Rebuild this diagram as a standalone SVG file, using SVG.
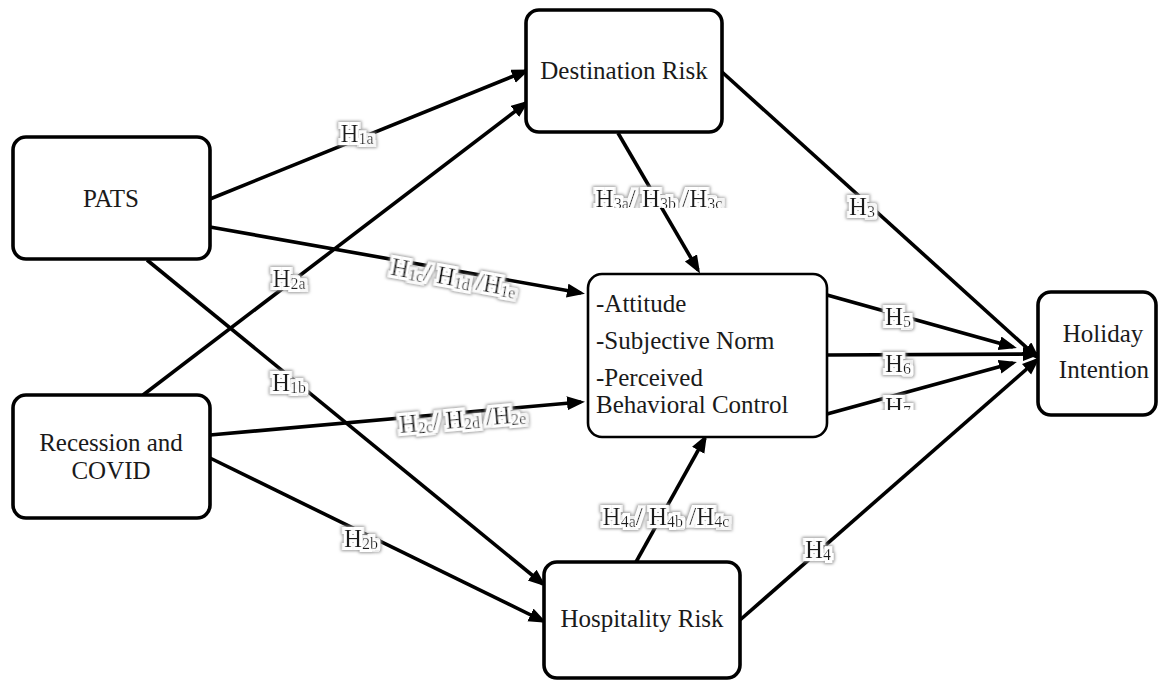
<svg xmlns="http://www.w3.org/2000/svg" width="1158" height="680" viewBox="0 0 1158 680">
<style>
.box{fill:#fff;stroke:#000;stroke-width:3.6}
.box2{fill:#fff;stroke:#000;stroke-width:2.6}
.nt{font-size:25px;fill:#1a1a1a}
.c{fill:none;stroke:#000;stroke-width:3.6;marker-end:url(#ah)}
.lb{font-size:25px;fill:#1a1a1a;text-anchor:middle;filter:url(#halo)}
.s{font-size:16px}
</style>
<defs>
<marker id="ah" markerUnits="userSpaceOnUse" markerWidth="20" markerHeight="16" refX="14" refY="7" orient="auto">
<path d="M0,0 L18,7 L0,14 Z" fill="#000"/>
</marker>
<filter id="halo" x="-30%" y="-60%" width="160%" height="220%">
<feMorphology in="SourceAlpha" operator="dilate" radius="4" result="d1"/>
<feGaussianBlur in="d1" stdDeviation="1.6" result="b1"/>
<feFlood flood-color="#9a9a9a"/>
<feComposite in2="b1" operator="in" result="gray"/>
<feMorphology in="SourceAlpha" operator="dilate" radius="2.6" result="d2"/>
<feFlood flood-color="#fff"/>
<feComposite in2="d2" operator="in" result="white"/>
<feMerge><feMergeNode in="gray"/><feMergeNode in="white"/><feMergeNode in="SourceGraphic"/></feMerge>
</filter>
<clipPath id="clip3"><rect x="560" y="170" width="200" height="38"/></clipPath>
<clipPath id="clip7"><rect x="860" y="385" width="80" height="25"/></clipPath>
</defs>
<rect width="1158" height="680" fill="#fff"/>

<g id="connectors">
<line class="c" x1="210" y1="199" x2="526" y2="71"/>
<line class="c" x1="210" y1="227" x2="581" y2="293"/>
<line class="c" x1="147" y1="260" x2="543" y2="584"/>
<line class="c" x1="143" y1="395" x2="526" y2="103"/>
<line class="c" x1="210" y1="435" x2="581" y2="402"/>
<line class="c" x1="210" y1="458" x2="543" y2="621"/>
<line class="c" x1="618" y1="133" x2="698" y2="270"/>
<line class="c" x1="722" y1="72" x2="1037" y2="357"/>
<line class="c" x1="827" y1="295" x2="1013" y2="347"/>
<line class="c" x1="827" y1="355" x2="1037" y2="354"/>
<line class="c" x1="827" y1="414" x2="1013" y2="363"/>
<line class="c" x1="740" y1="620" x2="1037" y2="360"/>
<line class="c" x1="636" y1="562" x2="705" y2="438"/>
</g>

<g id="labels" font-family="'Liberation Serif', 'DejaVu Serif', serif">
<text class="lb" x="357" y="142">H<tspan class="s" dy="2">1a</tspan></text>
<text class="lb" transform="translate(455,271) rotate(10.1)" x="0" y="15">H<tspan class="s" dy="2">1c</tspan><tspan dy="-2">/ H</tspan><tspan class="s" dy="2">1d</tspan><tspan dy="-2"> /H</tspan><tspan class="s" dy="2">1e</tspan></text>
<text class="lb" x="289" y="391">H<tspan class="s" dy="2">1b</tspan></text>
<text class="lb" x="289" y="287">H<tspan class="s" dy="2">2a</tspan></text>
<text class="lb" transform="translate(462,412.5) rotate(-5.1)" x="0" y="15">H<tspan class="s" dy="2">2c</tspan><tspan dy="-2">/ H</tspan><tspan class="s" dy="2">2d</tspan><tspan dy="-2"> /H</tspan><tspan class="s" dy="2">2e</tspan></text>
<text class="lb" x="361" y="547">H<tspan class="s" dy="2">2b</tspan></text>
<g clip-path="url(#clip3)"><text class="lb" x="659" y="207">H<tspan class="s" dy="2">3a</tspan><tspan dy="-2">/ H</tspan><tspan class="s" dy="2">3b</tspan><tspan dy="-2"> /H</tspan><tspan class="s" dy="2">3c</tspan></text></g>
<text class="lb" x="862" y="215">H<tspan class="s" dy="2">3</tspan></text>
<text class="lb" x="818" y="558">H<tspan class="s" dy="2">4</tspan></text>
<text class="lb" x="666" y="525">H<tspan class="s" dy="2">4a</tspan><tspan dy="-2">/ H</tspan><tspan class="s" dy="2">4b</tspan><tspan dy="-2"> /H</tspan><tspan class="s" dy="2">4c</tspan></text>
<text class="lb" x="898" y="325">H<tspan class="s" dy="2">5</tspan></text>
<text class="lb" x="898" y="372">H<tspan class="s" dy="2">6</tspan></text>
<g clip-path="url(#clip7)"><text class="lb" x="898" y="415">H<tspan class="s" dy="2">7</tspan></text></g>
</g>

<g id="nodes" font-family="'Liberation Serif', 'DejaVu Serif', serif">
<g id="pats">
<rect class="box" x="13" y="137" width="197" height="122" rx="13"/>
<text class="nt" x="111" y="207" text-anchor="middle">PATS</text>
</g>
<g id="recession">
<rect class="box" x="13" y="395" width="197" height="123" rx="13"/>
<text class="nt" x="111" y="451" text-anchor="middle">Recession and</text>
<text class="nt" x="111" y="479" text-anchor="middle">COVID</text>
</g>
<g id="destination">
<rect class="box" x="526" y="10" width="196" height="122" rx="13"/>
<text class="nt" x="624" y="79" text-anchor="middle">Destination Risk</text>
</g>
<g id="hospitality">
<rect class="box" x="544" y="562" width="196" height="116" rx="13"/>
<text class="nt" x="642" y="627" text-anchor="middle">Hospitality Risk</text>
</g>
<g id="tpb">
<rect class="box2" x="588" y="274" width="239" height="163" rx="14"/>
<text class="nt" x="596" y="312">-Attitude</text>
<text class="nt" x="596" y="349">-Subjective Norm</text>
<text class="nt" x="596" y="386">-Perceived</text>
<text class="nt" x="596" y="413">Behavioral Control</text>
</g>
<g id="holiday">
<rect class="box" x="1038" y="292" width="118" height="123" rx="13"/>
<text class="nt" x="1103" y="342" text-anchor="middle">Holiday</text>
<text class="nt" x="1104" y="378" text-anchor="middle">Intention</text>
</g>
</g>
</svg>
